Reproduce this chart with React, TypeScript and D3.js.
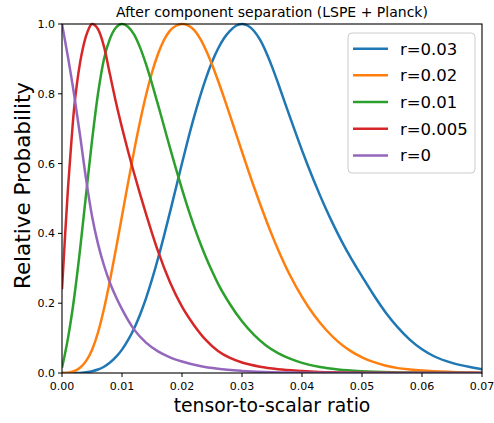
import React from "react";
import * as d3 from "d3";

const title = "After component separation (LSPE + Planck)";
const xLabel = "tensor-to-scalar ratio";
const yLabel = "Relative Probability";
const xTicks = [0, 0.01, 0.02, 0.03, 0.04, 0.05, 0.06, 0.07];
const yTicks = [0, 0.2, 0.4, 0.6, 0.8, 1.0];
const seriesNames = ["r=0.03", "r=0.02", "r=0.01", "r=0.005", "r=0"];
const seriesColors = ["#1f77b4", "#ff7f0e", "#2ca02c", "#d62728", "#9467bd"];

// [r, relative probability]
const r003: [number, number][] = [
  [0, 0], [0.003, 0], [0.004, 0.002], [0.005, 0.005], [0.006, 0.01], [0.007, 0.018],
  [0.008, 0.03], [0.009, 0.046], [0.01, 0.067], [0.011, 0.094], [0.012, 0.127],
  [0.013, 0.167], [0.014, 0.214], [0.015, 0.268], [0.016, 0.328], [0.017, 0.393],
  [0.018, 0.461], [0.019, 0.531], [0.02, 0.601], [0.021, 0.669], [0.022, 0.733],
  [0.023, 0.792], [0.024, 0.845], [0.025, 0.891], [0.026, 0.929], [0.027, 0.959],
  [0.028, 0.98], [0.029, 0.995], [0.03, 1.0], [0.031, 0.995], [0.032, 0.98],
  [0.033, 0.955], [0.034, 0.92], [0.035, 0.878], [0.036, 0.831], [0.037, 0.782],
  [0.038, 0.733], [0.039, 0.685], [0.04, 0.638], [0.041, 0.593], [0.042, 0.55],
  [0.043, 0.509], [0.044, 0.47], [0.045, 0.433], [0.046, 0.398], [0.047, 0.365],
  [0.048, 0.334], [0.049, 0.305], [0.05, 0.277], [0.052, 0.222], [0.054, 0.172],
  [0.056, 0.13], [0.058, 0.095], [0.06, 0.068], [0.062, 0.048], [0.065, 0.029],
  [0.068, 0.017], [0.07, 0.011],
];
const r002: [number, number][] = [
  [0, 0], [0.001, 0.001], [0.002, 0.005], [0.003, 0.015], [0.004, 0.034], [0.005, 0.066],
  [0.006, 0.116], [0.007, 0.184], [0.008, 0.266], [0.009, 0.356], [0.01, 0.45],
  [0.011, 0.544], [0.012, 0.635], [0.013, 0.72], [0.014, 0.796], [0.015, 0.861],
  [0.016, 0.914], [0.017, 0.954], [0.018, 0.981], [0.019, 0.995], [0.02, 1.0],
  [0.021, 0.996], [0.022, 0.983], [0.023, 0.959], [0.024, 0.925], [0.025, 0.884],
  [0.026, 0.838], [0.027, 0.789], [0.028, 0.738], [0.029, 0.686], [0.03, 0.634],
  [0.031, 0.583], [0.032, 0.533], [0.033, 0.485], [0.034, 0.439], [0.035, 0.395],
  [0.036, 0.354], [0.038, 0.28], [0.04, 0.218], [0.042, 0.166], [0.044, 0.124],
  [0.046, 0.09], [0.048, 0.064], [0.05, 0.045], [0.052, 0.031], [0.054, 0.021],
  [0.056, 0.014], [0.058, 0.01], [0.06, 0.007], [0.065, 0.003], [0.07, 0.001],
];
const r001: [number, number][] = [
  [0, 0.015], [0.0005, 0.055], [0.001, 0.1], [0.002, 0.212], [0.003, 0.352], [0.004, 0.51],
  [0.005, 0.665], [0.006, 0.8], [0.007, 0.9], [0.008, 0.958], [0.009, 0.99],
  [0.01, 1.0], [0.011, 0.992], [0.012, 0.97], [0.013, 0.933], [0.014, 0.885],
  [0.015, 0.829], [0.016, 0.769], [0.017, 0.707], [0.018, 0.645], [0.019, 0.585],
  [0.02, 0.527], [0.021, 0.472], [0.022, 0.421], [0.023, 0.374], [0.024, 0.331],
  [0.025, 0.292], [0.026, 0.256], [0.028, 0.197], [0.03, 0.148], [0.032, 0.109],
  [0.034, 0.079], [0.036, 0.057], [0.038, 0.041], [0.04, 0.029], [0.043, 0.017],
  [0.046, 0.01], [0.05, 0.005], [0.055, 0.002], [0.06, 0.001], [0.07, 0],
];
const r0005: [number, number][] = [
  [0, 0.24], [0.0005, 0.39], [0.001, 0.53], [0.0015, 0.648], [0.002, 0.755], [0.0025, 0.83],
  [0.003, 0.888], [0.0035, 0.932], [0.004, 0.965], [0.0045, 0.988], [0.005, 1.0],
  [0.006, 0.985], [0.007, 0.935], [0.008, 0.855], [0.009, 0.775], [0.01, 0.703],
  [0.011, 0.636], [0.012, 0.573], [0.013, 0.513], [0.014, 0.456], [0.015, 0.401],
  [0.016, 0.349], [0.018, 0.26], [0.02, 0.19], [0.022, 0.137], [0.024, 0.094],
  [0.026, 0.063], [0.028, 0.043], [0.03, 0.03], [0.033, 0.018], [0.036, 0.011],
  [0.04, 0.006], [0.045, 0.002], [0.05, 0.001], [0.07, 0],
];
const r0: [number, number][] = [
  [0, 1.0], [0.001, 0.905], [0.002, 0.8], [0.003, 0.682], [0.004, 0.557], [0.005, 0.45],
  [0.006, 0.37], [0.007, 0.308], [0.008, 0.258], [0.009, 0.218], [0.01, 0.183],
  [0.012, 0.125], [0.014, 0.087], [0.016, 0.062], [0.018, 0.045], [0.02, 0.033],
  [0.023, 0.02], [0.026, 0.012], [0.03, 0.006], [0.035, 0.002], [0.04, 0.001],
  [0.05, 0], [0.07, 0],
];
const seriesData = [r003, r002, r001, r0005, r0];

const W = 494;
const H = 423;
const M = { left: 62, right: 482, top: 24, bottom: 373 };
const FONT = "DejaVu Sans, sans-serif";

export default function App() {
  const x = d3.scaleLinear().domain([0, 0.07]).range([M.left, M.right]);
  const y = d3.scaleLinear().domain([0, 1]).range([M.bottom, M.top]);
  const line = d3
    .line<[number, number]>()
    .x((d) => x(d[0]))
    .y((d) => y(d[1]))
    .curve(d3.curveMonotoneX);

  const legX = 348;
  const legY = 33;
  const legW = 127;
  const legH = 140;
  const rowH = 26.67;

  return (
    <svg
      width={W}
      height={H}
      style={{ position: "absolute", left: 0, top: 0, background: "#fff" }}
      fontFamily={FONT}
    >
      <rect x={0} y={0} width={W} height={H} fill="#fff" />
      <defs>
        <clipPath id="plot">
          <rect x={M.left} y={M.top - 2} width={M.right - M.left} height={M.bottom - M.top + 2} />
        </clipPath>
      </defs>
      <g clipPath="url(#plot)">
        {seriesData.map((d, i) => (
          <path
            key={i}
            d={line(d) || ""}
            fill="none"
            stroke={seriesColors[i]}
            strokeWidth={2.5}
            strokeLinejoin="round"
          />
        ))}
      </g>
      <rect
        x={M.left}
        y={M.top}
        width={M.right - M.left}
        height={M.bottom - M.top}
        fill="none"
        stroke="#000"
        strokeWidth={1.1}
      />
      {xTicks.map((t) => (
        <g key={"x" + t}>
          <line x1={x(t)} x2={x(t)} y1={M.bottom} y2={M.bottom + 4} stroke="#000" strokeWidth={1} />
          <text x={x(t)} y={M.bottom + 17} fontSize={11} textAnchor="middle" fill="#000">
            {t.toFixed(2)}
          </text>
        </g>
      ))}
      {yTicks.map((t) => (
        <g key={"y" + t}>
          <line x1={M.left - 4} x2={M.left} y1={y(t)} y2={y(t)} stroke="#000" strokeWidth={1} />
          <text x={M.left - 7} y={y(t) + 4} fontSize={11} textAnchor="end" fill="#000">
            {t.toFixed(1)}
          </text>
        </g>
      ))}
      <text x={(M.left + M.right) / 2} y={17} fontSize={14} textAnchor="middle" fill="#000">
        {title}
      </text>
      <text x={(M.left + M.right) / 2} y={412} fontSize={18.8} textAnchor="middle" fill="#000">
        {xLabel}
      </text>
      <text
        transform={`translate(30, ${(M.top + M.bottom) / 2 - 13}) rotate(-90)`}
        fontSize={21.5}
        textAnchor="middle"
        fill="#000"
      >
        {yLabel}
      </text>
      <rect
        x={legX}
        y={legY}
        width={legW}
        height={legH}
        rx={4}
        fill="#fff"
        fillOpacity={0.8}
        stroke="#cccccc"
        strokeWidth={1}
      />
      {seriesNames.map((n, i) => {
        const cy = legY + 15.7 + i * rowH;
        return (
          <g key={n}>
            <line x1={353} x2={388} y1={cy} y2={cy} stroke={seriesColors[i]} strokeWidth={2.5} />
            <text x={400} y={cy + 6} fontSize={16.5} fill="#000">
              {n}
            </text>
          </g>
        );
      })}
    </svg>
  );
}
